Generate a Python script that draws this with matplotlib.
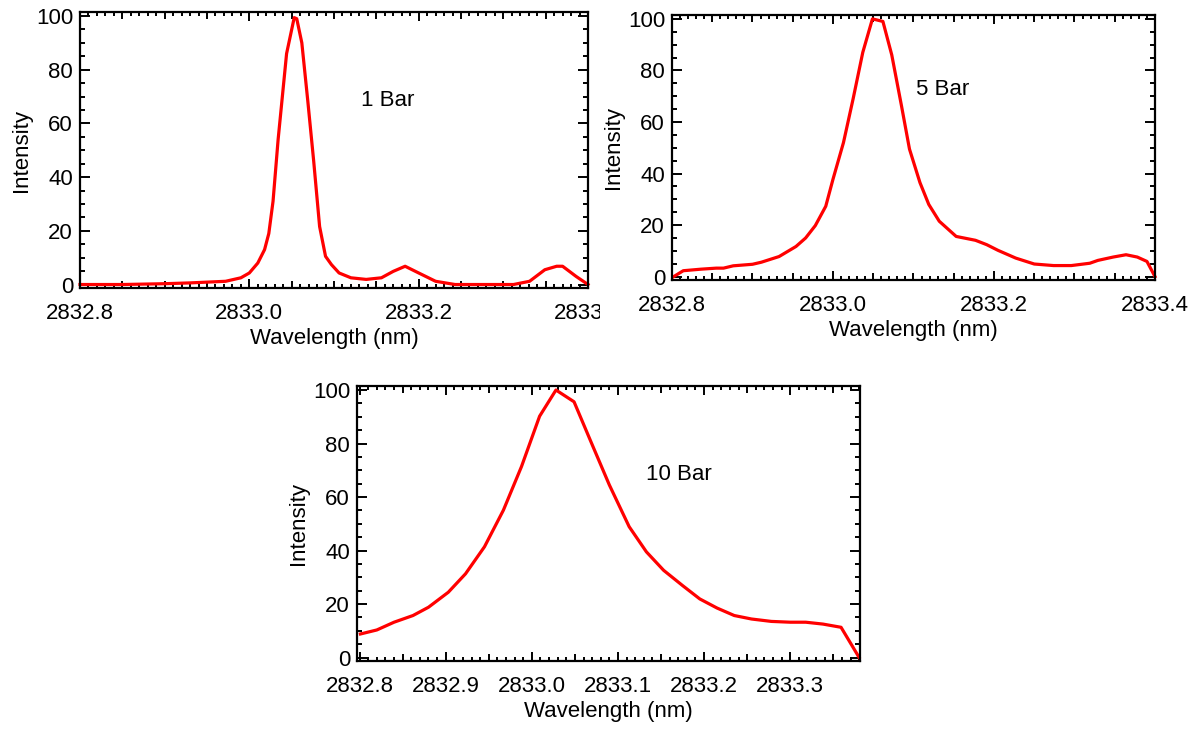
import numpy as np
import matplotlib
matplotlib.use("Agg")
import matplotlib.pyplot as plt
from matplotlib.transforms import Bbox, TransformedBbox

plt.rcParams['font.family'] = ['Liberation Sans', 'DejaVu Sans']

# 1 Bar spectrum
wl_1bar = [2832.800, 2832.850, 2832.900, 2832.930, 2832.972, 2832.990, 2833.000,
           2833.010, 2833.018, 2833.023, 2833.028, 2833.034, 2833.044, 2833.053,
           2833.056, 2833.062, 2833.069, 2833.076, 2833.083, 2833.090, 2833.097,
           2833.106, 2833.120, 2833.138, 2833.156, 2833.170, 2833.184, 2833.200,
           2833.220, 2833.243, 2833.280, 2833.312, 2833.331, 2833.349, 2833.363,
           2833.370, 2833.386, 2833.400]
int_1bar = [0.0, 0.0, 0.3, 0.6, 1.2, 2.5, 4.3,
            8.0, 13.0, 19.0, 31.0, 54.0, 86.0, 99.4,
            99.0, 90.0, 68.5, 46.0, 21.6, 10.5, 7.4,
            4.3, 2.5, 1.9, 2.5, 4.9, 6.8, 4.3,
            1.2, 0.0, 0.0, 0.0, 1.2, 5.5, 6.8,
            6.8, 3.0, 0.0]

# 5 Bar spectrum
wl_5bar = [2832.802, 2832.814, 2832.836, 2832.855, 2832.864, 2832.876, 2832.900,
           2832.911, 2832.933, 2832.954, 2832.966, 2832.978, 2832.991, 2833.000,
           2833.013, 2833.025, 2833.037, 2833.049, 2833.062, 2833.073, 2833.085,
           2833.095, 2833.108, 2833.119, 2833.132, 2833.153, 2833.177, 2833.191,
           2833.205, 2833.227, 2833.250, 2833.274, 2833.296, 2833.319, 2833.329,
           2833.348, 2833.364, 2833.378, 2833.390, 2833.400]
int_5bar = [0.0, 2.3, 2.9, 3.3, 3.3, 4.2, 4.8,
            5.6, 7.8, 11.7, 15.0, 19.8, 27.3, 37.8,
            52.0, 69.0, 87.0, 100.0, 99.0, 86.0, 66.4,
            49.5, 36.5, 28.0, 21.5, 15.6, 14.1, 12.4,
            10.2, 7.2, 4.9, 4.3, 4.3, 5.2, 6.3,
            7.6, 8.5, 7.6, 5.9, 0.0]

# 10 Bar spectrum
wl_10bar = [2832.801, 2832.820, 2832.840, 2832.862, 2832.880, 2832.903, 2832.923,
            2832.945, 2832.967, 2832.988, 2833.009, 2833.028, 2833.049, 2833.070,
            2833.090, 2833.113, 2833.133, 2833.153, 2833.175, 2833.195, 2833.215,
            2833.235, 2833.255, 2833.278, 2833.300, 2833.318, 2833.338, 2833.359,
            2833.380]
int_10bar = [8.8, 10.3, 13.2, 15.7, 18.8, 24.4, 31.3,
             41.4, 55.1, 71.4, 90.2, 100.0, 95.6, 79.6,
             64.5, 48.9, 39.5, 32.6, 26.9, 21.9, 18.5,
             15.7, 14.4, 13.5, 13.2, 13.2, 12.5, 11.3,
             0.0]

labels = ["1 Bar", "5 Bar", "10 Bar"]
y_ticks = [0, 20, 40, 60, 80, 100]

RED = '#ff0000'
FS = 16

fig = plt.figure(figsize=(11.95, 7.31), dpi=100)


def px_axes(l, t, r, b):
    W, H = 1195.0, 731.0
    return fig.add_axes([l / W, 1 - b / H, (r - l) / W, (b - t) / H])


def style_axis(ax, xlim, label_step, text, text_pos):
    ax.set_xlim(*xlim)
    ax.set_ylim(-1.3, 101.5)
    for s in ax.spines.values():
        s.set_linewidth(1.6)
        s.set_color('black')

    # major ticks every 0.05 nm, labels only on label_step
    start = 2832.8
    n = int(round((xlim[1] - start) / 0.05)) + 1
    locs = [round(start + 0.05 * i, 2) for i in range(n) if start + 0.05 * i <= xlim[1] + 1e-6]
    k = int(round(label_step / 0.05))
    lbls = [('%.1f' % v) if i % k == 0 else '' for i, v in enumerate(locs)]
    ax.set_xticks(locs)
    ax.set_xticklabels(lbls)
    ax.set_xticks(np.arange(2832.8, xlim[1] + 1e-6, 0.01), minor=True)

    ax.set_yticks(y_ticks)
    ax.set_yticks(np.arange(0, 101, 5), minor=True)

    ax.tick_params(which='both', direction='in', top=True, right=True,
                   width=1.4, labelsize=FS, color='black')
    ax.tick_params(axis='x', which='major', pad=11)
    ax.tick_params(axis='y', which='major', length=7, pad=5)
    ax.tick_params(axis='y', which='minor', length=3.5)
    ax.tick_params(axis='x', which='minor', length=3)

    for i, t in enumerate(ax.xaxis.get_major_ticks()):
        ln = 6.5 if i % k == 0 else 5
        t.tick1line.set_markersize(ln)
        t.tick2line.set_markersize(ln)

    ax.set_xlabel('Wavelength (nm)', fontsize=FS, labelpad=3)
    ax.set_ylabel('Intensity', fontsize=FS, labelpad=3)
    ax.text(text_pos[0], text_pos[1], text, transform=ax.transAxes,
            fontsize=FS, ha='center', va='center')


# 1 Bar
ax1 = px_axes(80, 12, 588, 288)
ax1.plot(wl_1bar, int_1bar, color=RED, lw=2.3, clip_on=False, solid_joinstyle='round')
style_axis(ax1, (2832.8, 2833.4), 0.2, labels[0], (0.605, 0.68))

# 5 Bar
ax2 = px_axes(672, 15, 1155, 280)
ax2.plot(wl_5bar, int_5bar, color=RED, lw=2.3, clip_on=False, solid_joinstyle='round')
style_axis(ax2, (2832.8, 2833.4), 0.2, labels[1], (0.56, 0.72))

# 10 Bar
ax3 = px_axes(357, 386, 860, 661)
ax3.plot(wl_10bar, int_10bar, color=RED, lw=2.3, clip_on=False, solid_joinstyle='round')
style_axis(ax3, (2832.797, 2833.381), 0.1, labels[2], (0.64, 0.68))

# the 1 Bar panel was cropped on its right side in the original figure
clip = TransformedBbox(Bbox([[0, 0], [600 / 1195, 1]]), fig.transFigure)
for lbl in ax1.get_xticklabels():
    lbl.set_clip_box(clip)
    lbl.set_clip_on(True)

fig.savefig('out.png', dpi=100)
